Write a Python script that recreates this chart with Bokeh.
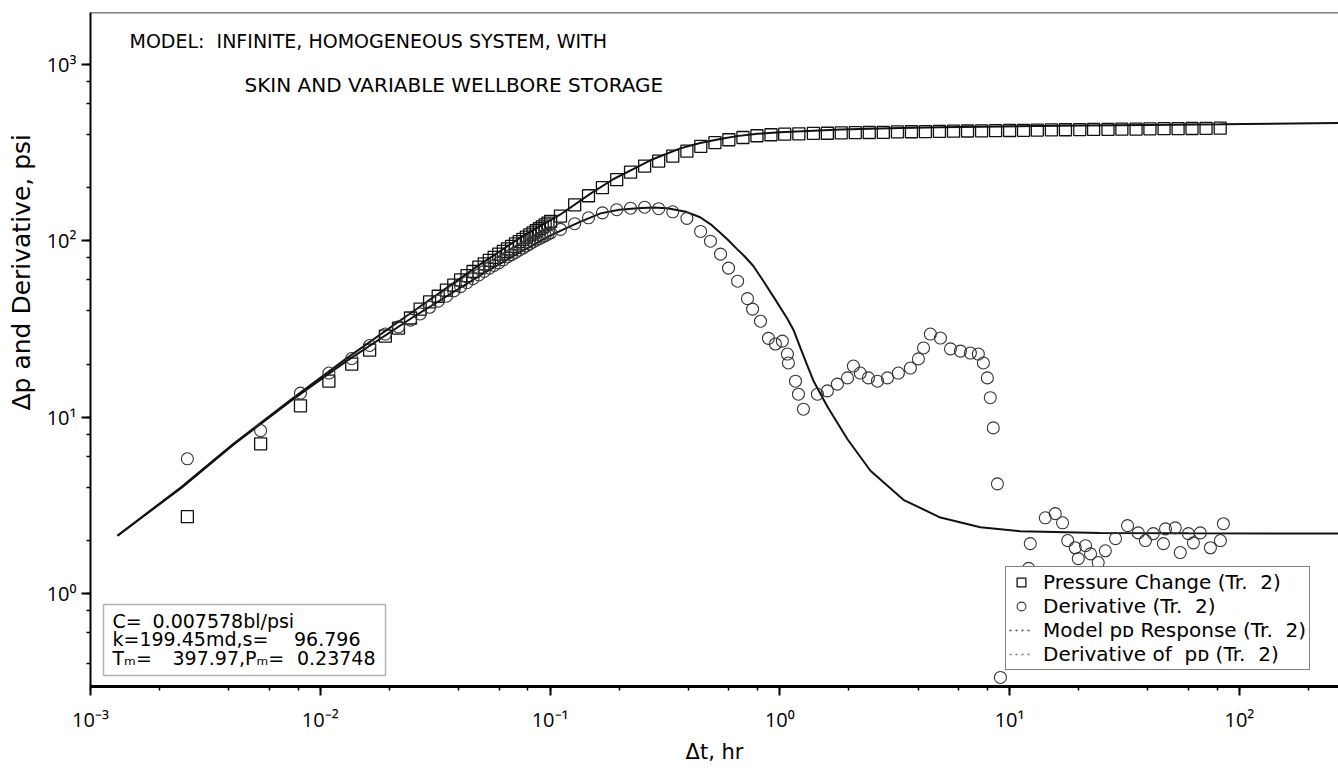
import math
from bokeh.plotting import figure
from bokeh.models import (LogTicker, CustomJSTickFormatter, Label, BoxAnnotation,
                          Legend, LegendItem, Range1d, Span, Title)
from bokeh.embed import file_html
from bokeh.resources import INLINE

FONT = "Open Sans"
WFONT = "DejaVu Sans"
NB = "\u00a0"

# ---------------- data ----------------
# Pressure change, squares
sq_t = [0.00264, 0.0055, 0.0082, 0.0109, 0.0137, 0.0164, 0.0192, 0.0219, 0.0247,
        0.0272, 0.0299, 0.0326, 0.0354, 0.0381, 0.0408, 0.0435, 0.0462, 0.0490,
        0.0517, 0.0544, 0.0571, 0.0598, 0.0626, 0.0653, 0.0680, 0.0707, 0.0734,
        0.0762, 0.0789, 0.0816, 0.0843, 0.0870, 0.0898, 0.0925, 0.0952, 0.0979,
        0.1006,
        0.111, 0.128, 0.147, 0.169, 0.195, 0.224, 0.258, 0.297, 0.342, 0.394,
        0.453, 0.522, 0.600, 0.691, 0.795, 0.915, 1.05, 1.21, 1.40, 1.61, 1.85,
        2.13, 2.45, 2.82, 3.25, 3.74, 4.30, 4.95, 5.70, 6.56, 7.55, 8.69, 10.0,
        11.5, 13.2, 15.2, 17.5, 20.2, 23.2, 26.8, 30.8, 35.5, 40.8, 47.0, 54.1,
        62.2, 71.6, 82.5]
sq_dp = [2.73, 7.06, 11.6, 16.0, 20.0, 24.0, 28.8, 32.0, 36.5,
         41, 45, 48.5, 52.5, 56, 60, 63.5, 67, 71,
         74, 77.5, 80.5, 84, 87, 90, 93, 96, 99,
         102, 105, 108, 111, 114, 117, 120, 123, 126,
         129,
         138, 160, 180, 200, 222, 245, 265, 283, 302, 322,
         343, 360, 374, 385, 394, 399, 402, 404, 406, 407, 409,
         410, 411, 412, 414, 415, 416, 417, 418, 419, 420, 421, 422,
         423, 424, 425, 426, 427, 428, 428, 429, 430, 431, 432, 432,
         433, 434, 435]

# Derivative, circles
dv_t = [0.00264, 0.0055, 0.0082, 0.0109, 0.0137, 0.0164, 0.0192, 0.0219, 0.0247,
        0.0272, 0.0299, 0.0326, 0.0354, 0.0381, 0.0408, 0.0435, 0.0462, 0.0490,
        0.0517, 0.0544, 0.0571, 0.0598, 0.0626, 0.0653, 0.0680, 0.0707, 0.0734,
        0.0762, 0.0789, 0.0816, 0.0843, 0.0870, 0.0898, 0.0925, 0.0952, 0.0979,
        0.1006,
        0.111, 0.128, 0.147, 0.169, 0.195, 0.224, 0.258, 0.297, 0.342, 0.394,
        0.452, 0.499, 0.552, 0.598, 0.655, 0.723, 0.761, 0.824, 0.892, 0.957,
        1.026, 1.079, 1.09, 1.17, 1.205, 1.267, 1.458, 1.61, 1.78, 1.97, 2.09,
        2.24, 2.43, 2.66, 2.94, 3.28, 3.70, 4.01, 4.22, 4.52, 5.0, 5.53, 6.11,
        6.75, 7.31, 7.69, 8.0, 8.24, 8.49, 8.85, 9.12,
        12.1, 12.3, 14.3, 15.8, 17.0, 17.9, 19.3, 19.9, 21.4, 22.5, 24.3, 26.1,
        28.9, 32.6, 36.3, 39.0, 42.2, 46.7, 47.7, 52.6, 55.3, 60.0, 63.1, 67.6,
        74.8, 82.7, 85.2]
dv_d = [5.81, 8.4, 13.7, 17.8, 21.5, 25.5, 29.6, 32.5, 35.5,
        38.5, 42, 45.5, 48.5, 52, 55, 58, 61, 64,
        67, 70, 72.5, 75, 78, 81, 83.5, 86, 88.5,
        91, 93.5, 96, 98.5, 101, 103, 105, 107, 109,
        111,
        116, 125, 135, 144, 150, 153, 155, 152, 146, 134,
        113, 99.5, 84, 70, 59, 47, 41, 35, 28, 26,
        27, 22.8, 20.3, 16.0, 13.5, 11.1, 13.5, 14.1, 15.4, 16.7, 19.5,
        17.8, 16.7, 16.0, 16.7, 17.8, 19.0, 21.4, 24.7, 29.6, 28.1, 24.4, 23.7,
        23.1, 22.8, 20.3, 16.7, 12.9, 8.7, 4.19, 0.335,
        1.39, 1.92, 2.69, 2.84, 2.52, 2.0, 1.82, 1.58, 1.87, 1.68, 1.50, 1.75,
        2.05, 2.43, 2.21, 2.0, 2.19, 1.92, 2.33, 2.36, 1.71, 2.19, 1.94, 2.21,
        1.82, 2.0, 2.49]

# Model pD response (line)
mp_t = [0.00131, 0.00247, 0.00419, 0.00764, 0.0131, 0.0255, 0.0498, 0.0742,
        0.111, 0.15, 0.189, 0.23, 0.28, 0.369, 0.45, 0.55, 0.65, 0.8, 1.0, 1.4,
        1.84, 3.0, 5.0, 9.12, 20, 40, 82.6, 270]
mp_p = [2.13, 4.0, 7.06, 12.9, 21.7, 40.0, 73.7, 104,
        141, 185, 224, 255, 290, 334, 358, 378, 392, 404, 412, 421,
        427, 434, 440, 445, 450, 454, 457, 466]

# Derivative of pD (line)
md_t = [0.00131, 0.0025, 0.0042, 0.0076, 0.013, 0.025, 0.05, 0.075, 0.1, 0.135,
        0.166, 0.2, 0.24, 0.28, 0.324, 0.39, 0.45, 0.5, 0.55, 0.6, 0.65, 0.7,
        0.767, 0.849, 0.95, 1.08, 1.15, 1.229, 1.31, 1.40, 1.61, 1.97, 2.48,
        3.45, 5.0, 7.46, 11.1, 24.8, 60, 270]
md_d = [2.13, 4.0, 7.0, 12.6, 20.8, 36.5, 64, 87, 107, 128,
        143, 150, 153, 154.5, 153, 146, 136, 124, 111, 100, 90, 82,
        72, 59, 47, 36, 31, 24.7, 20, 16.1, 11.5, 7.5, 4.97,
        3.4, 2.7, 2.38, 2.26, 2.21, 2.2, 2.19]

x_lo, x_hi = 1e-3, 270
y_lo, y_hi = 0.2976, 1968

legend_labels = ["Pressure Change (Tr." + NB + " 2)", "Derivative (Tr." + NB + " 2)",
                 "Model p\u1d05 Response (Tr." + NB + " 2)",
                 "Derivative of" + NB + " p\u1d05 (Tr." + NB + " 2)"]
title_lines = ["MODEL:" + NB + " INFINITE, HOMOGENEOUS SYSTEM, WITH",
               "SKIN AND VARIABLE WELLBORE STORAGE"]
stats_parts = [("C=", "left", 22, 66),
               ("0.007578bl/psi", "left", 62, 66),
               ("k=199.45md,s=", "left", 22, 48),
               ("96.796", "right", 270, 48),
               ("T\u2098=", "left", 22, 29),
               ("397.97,P\u2098=", "left", 82, 29),
               ("0.23748", "right", 285, 29)]
y_title = "\u0394p and Derivative, psi"
x_title = "\u0394t, hr"

# ---------------- figure ----------------
p = figure(width=1338, height=771, x_axis_type="log", y_axis_type="log",
           x_range=Range1d(x_lo, x_hi), y_range=Range1d(y_lo, y_hi),
           output_backend="svg", toolbar_location=None,
           min_border_left=90, min_border_right=0, min_border_top=12,
           min_border_bottom=85)
p.outline_line_color = None
p.grid.visible = False
p.background_fill_color = "white"
p.border_fill_color = "white"

fmt_code = """
const sup = {'-':'\u207b','0':'\u2070','1':'\u00b9','2':'\u00b2','3':'\u00b3',
             '4':'\u2074','5':'\u2075','6':'\u2076','7':'\u2077','8':'\u2078','9':'\u2079'};
const e = Math.round(Math.log(tick) / Math.LN10);
let s = '';
for (const c of String(e)) { s += (sup[c] || c); }
return '10' + s;
"""

for ax in (p.xaxis[0], p.yaxis[0]):
    ax.ticker = LogTicker(mantissas=[1], desired_num_ticks=6)
    ax.formatter = CustomJSTickFormatter(code=fmt_code)
    ax.major_label_text_font = FONT
    ax.major_label_text_font_size = "20px"
    ax.major_label_text_color = "black"
    ax.major_tick_in = 0
    ax.major_tick_out = 9
    ax.minor_tick_in = 0
    ax.minor_tick_out = 4
    ax.major_tick_line_width = 2
    ax.minor_tick_line_width = 1.5
    ax.axis_line_color = "black"
    ax.major_tick_line_color = "black"
    ax.minor_tick_line_color = "black"

p.xaxis.axis_line_width = 3
p.yaxis.axis_line_width = 2
p.xaxis.major_label_standoff = 10
p.yaxis.major_label_standoff = 5
p.xaxis.axis_label = x_title
p.xaxis.axis_label_text_font = WFONT
p.xaxis.axis_label_text_font_size = "21px"
p.xaxis.axis_label_text_font_style = "normal"
p.xaxis.axis_label_text_color = "black"
p.xaxis.axis_label_standoff = 4

# y-axis title, placed along the left side (upper part, as in the original)
p.add_layout(Title(text=y_title, align="left", offset=276, vertical_align="top",
                   text_font=WFONT, text_font_size="25px", text_font_style="normal",
                   text_color="black", standoff=11), "left")

# top border of the frame
p.add_layout(Span(location=y_hi, dimension="width", line_color="black", line_width=1.5))

# ---------------- glyphs ----------------
lm = p.line(mp_t, mp_p, line_color="#111111", line_width=2)
ld = p.line(md_t, md_d, line_color="#111111", line_width=2)
sq = p.scatter(sq_t, sq_dp, marker="square", size=12, fill_color=None,
               line_color="#111111", line_width=1.3)
ci = p.scatter(dv_t, dv_d, marker="circle", size=12, fill_color=None,
               line_color="#333333", line_width=1.1)
# key samples for the model curves (dotted in the key); a single point draws nothing
lk1 = p.line(mp_t[:1], mp_p[:1], line_color="#444444", line_width=1.5, line_dash="2 4")
lk2 = p.line(md_t[:1], md_d[:1], line_color="#777777", line_width=1.5, line_dash="2 4")

legend = Legend(items=[LegendItem(label=legend_labels[0], renderers=[sq]),
                       LegendItem(label=legend_labels[1], renderers=[ci]),
                       LegendItem(label=legend_labels[2], renderers=[lk1]),
                       LegendItem(label=legend_labels[3], renderers=[lk2])],
                location=(915, 16))
legend.border_line_color = "black"
legend.border_line_width = 1.5
legend.background_fill_color = "white"
legend.background_fill_alpha = 1.0
legend.label_text_font = WFONT
legend.label_text_font_size = "20px"
legend.label_text_color = "black"
legend.glyph_width = 24
legend.glyph_height = 22
legend.label_height = 16
legend.spacing = 0
legend.padding = 3
legend.margin = 0
legend.label_standoff = 10
p.add_layout(legend)

# ---------------- text annotations ----------------
p.add_layout(Label(x=39, y=646, x_units="screen", y_units="screen",
                   text=title_lines[0], text_font=WFONT, text_font_size="19px",
                   text_align="left", text_baseline="middle", text_color="black"))
p.add_layout(Label(x=154, y=602, x_units="screen", y_units="screen",
                   text=title_lines[1], text_font=WFONT, text_font_size="20px",
                   text_align="left", text_baseline="middle", text_color="black"))

p.add_layout(BoxAnnotation(left=13, right=295, top=82, bottom=11,
                           left_units="screen", right_units="screen",
                           top_units="screen", bottom_units="screen",
                           fill_color="white", fill_alpha=1.0,
                           line_color="black", line_width=1.5))
for txt, align, sx, sy in stats_parts:
    p.add_layout(Label(x=sx, y=sy, x_units="screen", y_units="screen",
                       text=txt, text_font=WFONT, text_font_size="19px",
                       text_align=align, text_baseline="middle", text_color="black"))

open("out.html", "w").write(file_html(p, INLINE))
